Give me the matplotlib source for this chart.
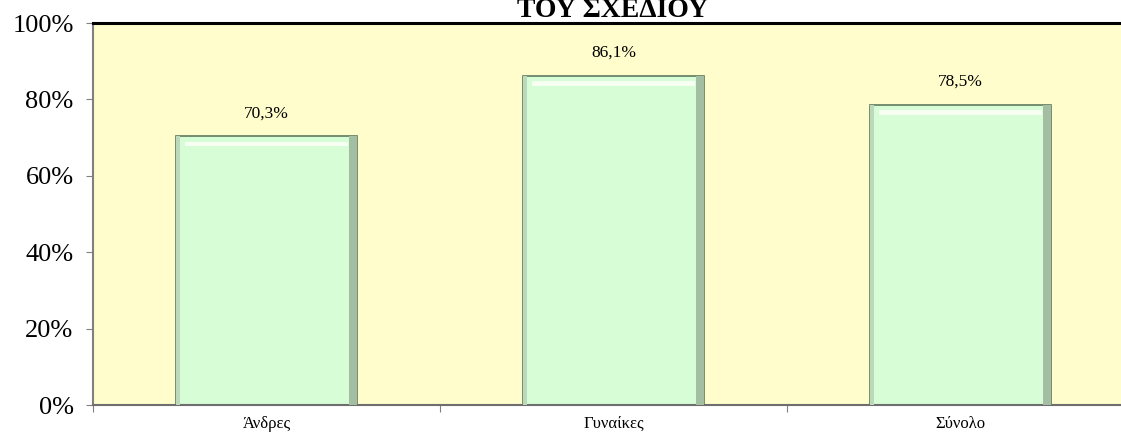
import matplotlib.pyplot as plt
from matplotlib.patches import Rectangle
from matplotlib.ticker import PercentFormatter

categories = ['Άνδρες', 'Γυναίκες', 'Σύνολο']
values = [70.3, 86.1, 78.5]
value_labels = ['70,3%', '86,1%', '78,5%']
yticks = [0, 20, 40, 60, 80, 100]

plt.rcParams['font.family'] = ['Liberation Serif', 'DejaVu Serif']

fig = plt.figure(figsize=(11.21, 4.41), dpi=100)
ax = fig.add_axes([93 / 1121, 36 / 441, 1041 / 1121, 382 / 441])
ax.set_facecolor('#FFFDCB')

x = list(range(len(categories)))
bar_w = 0.52
ax.bar(x, values, width=bar_w, color='#D6FDD6', edgecolor='#5E7A5E',
       linewidth=1.2, zorder=2)

# rough bevel look: pale highlight at top, darker strip at right
for xi, v in zip(x, values):
    ax.add_patch(Rectangle((xi - bar_w / 2 + 0.025, v - 2.6), bar_w - 0.05, 1.2,
                           facecolor='#F6FFF2', edgecolor='none', zorder=3))
    ax.add_patch(Rectangle((xi + bar_w / 2 - 0.022, 0), 0.022, v,
                           facecolor='#A3BEA3', edgecolor='none', zorder=3))
    ax.add_patch(Rectangle((xi - bar_w / 2, 0), 0.012, v,
                           facecolor='#BCD9BC', edgecolor='none', zorder=3))

for xi, v, lab in zip(x, values, value_labels):
    ax.annotate(lab, (xi, v), xytext=(0, 11), textcoords='offset points',
                ha='center', va='bottom', fontsize=12.5)

ax.set_xlim(-0.5, 2.5)
ax.set_ylim(0, 100)
ax.set_yticks(yticks)
ax.yaxis.set_major_formatter(PercentFormatter(decimals=0))
ax.tick_params(axis='y', labelsize=19, length=5, color='#808080', pad=9)
ax.set_xticks([-0.5, 0.5, 1.5, 2.5])
ax.set_xticklabels([])
ax.set_xticks(x, minor=True)
ax.set_xticklabels(categories, minor=True)
ax.tick_params(axis='x', which='major', length=5, color='#808080', direction='out')
ax.tick_params(axis='x', which='minor', length=0, labelsize=12, pad=8)

ax.spines['right'].set_visible(False)
ax.spines['top'].set_linewidth(2.2)
ax.spines['top'].set_color('black')
ax.spines['left'].set_color('#808080')
ax.spines['left'].set_linewidth(1.5)
ax.spines['bottom'].set_color('#6E6E6E')
ax.spines['bottom'].set_linewidth(1.5)

fig.text(613 / 1121, 1 - 17 / 441, 'ΤΟΥ ΣΧΕΔΙΟΥ', ha='center', va='baseline',
         fontsize=20, fontweight='bold')

fig.savefig('out.png', dpi=100)
